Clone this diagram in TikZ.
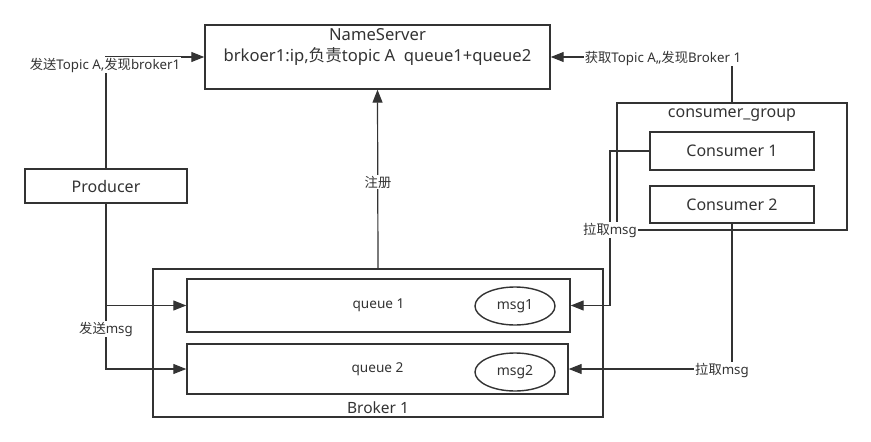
\documentclass[tikz,border=0pt]{standalone}
\usepackage{fontspec}
\setmainfont{Noto Sans}
\newfontfamily\cjk{Noto Sans CJK SC}
\usetikzlibrary{arrows.meta,shapes.geometric}
\definecolor{ink}{HTML}{333333}
\tikzset{
  box/.style={draw=ink,line width=1.4pt,inner sep=0pt,minimum width=#1},
  box/.default=100pt,
  conn/.style={draw=ink,line width=1.2pt},
  arr/.style={conn,-{Triangle[length=13pt,width=10pt]}},
  lbl/.style={fill=white,inner sep=1pt,text=ink,font=\fontsize{13.3}{15}\selectfont},
  txt/.style={text=ink,inner sep=0pt},
  big/.style={text=ink,font=\fontsize{16}{18}\selectfont},
  small/.style={text=ink,font=\fontsize{13.6}{15}\selectfont},
  oval/.style={draw=ink,line width=1.4pt,ellipse,minimum width=80pt,minimum height=38pt,inner sep=0pt,text=ink,font=\fontsize{14}{16}\selectfont},
}
\begin{document}
\begin{tikzpicture}[x=1pt,y=-1pt]
\useasboundingbox[fill=white] (0,0) rectangle (871,442);
% NameServer
\node[box=345pt,minimum height=64pt] (ns) at (377.5,57) {};
\node[txt,align=center,font=\fontsize{16.6}{21}\selectfont] (nstext) at (377.5,47) {NameServer\\brkoer1:ip,{\cjk 负责}topic A\ \ queue1+queue2};
% Producer
\node[box=162pt,minimum height=34pt,big] (prod) at (106,186) {Producer};
% Broker
\node[box=450pt,minimum height=148pt,line width=1.6pt] (broker) at (378,343) {};
\node[txt,font=\fontsize{15.5}{17}\selectfont] (brokerlbl) at (378,408) {Broker 1};
\node[box=383pt,minimum height=53pt,small] (q1) at (378.5,305.5) {queue 1};
\node[box=381pt,minimum height=50pt,small] (q2) at (377.5,369) {queue 2};
\node[oval] (m1) at (515,306) {msg1};
\node[oval] (m2) at (515,372) {msg2};
% consumer group
\node[box=230pt,minimum height=127pt] (cg) at (732,166.5) {};
\node[txt,big] (cglbl) at (732,115) {consumer\_group};
\node[box=164pt,minimum height=38pt,big] (c1) at (732,151) {Consumer 1};
\node[box=164pt,minimum height=37pt,big] (c2) at (732,204.5) {Consumer 2};
% connectors
\draw[arr] (prod.north) |- (ns.west);
\node[lbl] (l1) at (105,65) {{\cjk 发送}Topic A,{\cjk 发现}broker1};
\draw[arr] (cg.north) |- (ns.east);
\node[lbl] (l2) at (663,58) {{\cjk 获取}Topic A,,{\cjk 发现}Broker 1};
\draw[arr] (broker.north) -- (ns.south);
\node[lbl] (l3) at (378,182) {\cjk 注册};
\draw[arr] (prod.south) |- (q1.west);
\draw[arr] (prod.south) |- (q2.west);
\node[lbl] (l4) at (106,329) {{\cjk 发送}msg};
\coordinate (k1) at (610,151);
\draw[arr] (c1.west) -- (k1) |- (q1.east);
\node[lbl] (l5) at (610,230) {{\cjk 拉取}msg};
\draw[arr] (c2.south) |- (q2.east);
\node[lbl] (l6) at (722,370) {{\cjk 拉取}msg};
\end{tikzpicture}
\end{document}
